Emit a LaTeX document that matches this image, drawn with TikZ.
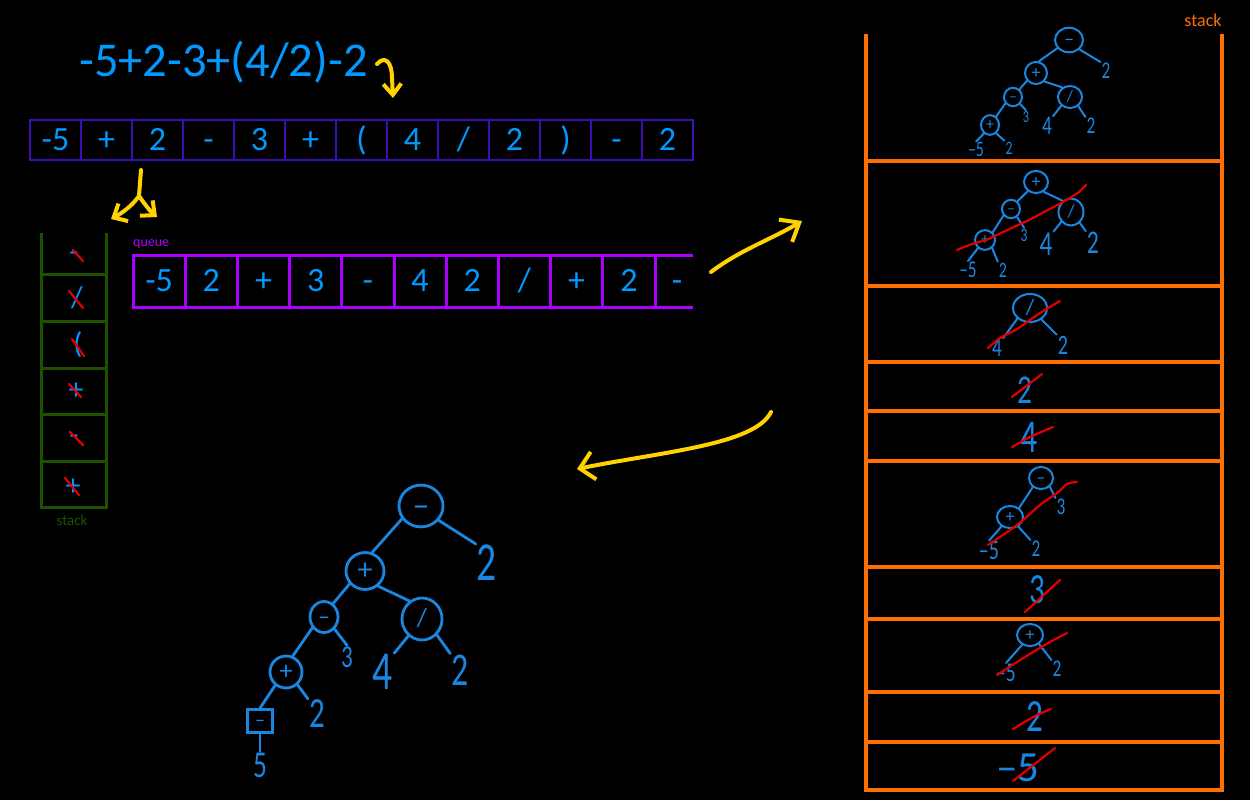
\documentclass[tikz,border=0pt]{standalone}
\usepackage{fontspec}
\setmainfont{Carlito}
\usepackage{graphicx}
\usetikzlibrary{shapes.geometric,arrows.meta}
\definecolor{typeblue}{RGB}{0,153,255}
\definecolor{handblue}{RGB}{25,135,225}
\definecolor{arrborder}{RGB}{60,15,180}
\definecolor{qpurple}{RGB}{170,0,255}
\definecolor{sgreen}{RGB}{30,80,0}
\definecolor{sorange}{RGB}{255,110,0}
\definecolor{hyellow}{RGB}{255,210,0}
\definecolor{hred}{RGB}{225,0,0}
\newcommand{\hw}[3][0.72]{{\fontsize{#2}{#2}\selectfont\scalebox{#1}[1]{#3}}}
\newcommand{\opx}[1]{\vphantom{(}#1}
\tikzset{
  arrcell/.style={draw=arrborder, line width=2pt, minimum width=51pt, minimum height=40pt, inner sep=0pt, outer sep=0pt, text=typeblue, font=\fontsize{34}{34}\selectfont, text height=21.5pt, text depth=0pt},
  qcell/.style={draw=qpurple, line width=3pt, minimum width=52.2pt, minimum height=52pt, inner sep=0pt, outer sep=0pt, text=typeblue, font=\fontsize{34}{34}\selectfont, text height=21.5pt, text depth=0pt},
  opn/.style n args={4}{ellipse, draw=handblue, line width=#4, inner sep=0pt, text=handblue, minimum width=#1, minimum height=#2, font=\fontsize{#3}{#3}\selectfont},
  num/.style={text=handblue, inner sep=1pt},
  hb/.style={draw=handblue, line width=#1, line cap=round},
  hb/.default=2pt,
  strike/.style={draw=hred, line width=2.2pt, line cap=round, line join=round},
  yarrow/.style={draw=hyellow, line width=4pt, line cap=round, line join=round},
  gline/.style={draw=sgreen, line width=3pt},
  oline/.style={draw=sorange, line width=4pt},
  sym/.style={text=typeblue, font=\fontsize{30}{30}\selectfont, inner sep=0pt},
}
\begin{document}
\begin{tikzpicture}[x=1pt,y=-1pt]
\fill[black] (0,0) rectangle (1250,800);
\useasboundingbox (0,0) rectangle (1250,800);

% expression
\node[anchor=base west, text=typeblue, font=\fontsize{48.5}{48.5}\selectfont, inner sep=0pt] (expr) at (79,77) {-5+2-3+(4/2)-2};

% token array
\node[arrcell] (a0) at (55.5,140) {-5};
\node[arrcell] (a1) at (106.5,140) {+};
\node[arrcell] (a2) at (157.5,140) {2};
\node[arrcell] (a3) at (208.5,140) {-};
\node[arrcell] (a4) at (259.5,140) {3};
\node[arrcell] (a5) at (310.5,140) {+};
\node[arrcell] (a6) at (361.5,140) {(};
\node[arrcell] (a7) at (412.5,140) {4};
\node[arrcell] (a8) at (463.5,140) {/};
\node[arrcell] (a9) at (514.5,140) {2};
\node[arrcell] (a10) at (565.5,140) {)};
\node[arrcell] (a11) at (616.5,140) {-};
\node[arrcell] (a12) at (667.5,140) {2};

% queue
\node[anchor=base west, text=qpurple, font=\fontsize{14}{14}\selectfont, inner sep=0pt] (qlab) at (133,246) {queue};
\node[qcell] (q0) at (159.1,281) {-5};
\node[qcell] (q1) at (211.3,281) {2};
\node[qcell] (q2) at (263.5,281) {+};
\node[qcell] (q3) at (315.7,281) {3};
\node[qcell] (q4) at (367.9,281) {-};
\node[qcell] (q5) at (420.1,281) {4};
\node[qcell] (q6) at (472.3,281) {2};
\node[qcell] (q7) at (524.5,281) {/};
\node[qcell] (q8) at (576.7,281) {+};
\node[qcell] (q9) at (628.9,281) {2};
\node[qcell, draw=none] (q10) at (677,281) {-};
\coordinate (qtop) at (693,255);
\coordinate (qbot) at (693,307);
\draw[qpurple, line width=3pt] (q9.north east) -- (qtop);
\draw[qpurple, line width=3pt] (q9.south east) -- (qbot);

% operator stack (left)
\draw[gline] (41,233) -- (41,507) -- (106,507) -- (106,233);
\foreach \yy in {274,321,368,414,461} \draw[gline] (41,\yy) -- (106,\yy);
\node[sym] (g1) at (74,257) {-};
\node[sym] (g2) at (77,298) {/};
\node[sym] (g3) at (78,345) {(};
\node[sym] (g4) at (76,391) {+};
\node[sym] (g5) at (74,440) {-};
\node[sym] (g6) at (73,487) {+};
\draw[strike] (73,250) -- (83,261);
\draw[strike] (69,291) -- (83,308);
\draw[strike] (72,339) -- (84,356);
\draw[strike] (69,384) -- (81,397);
\draw[strike] (70,432) -- (83,445);
\draw[strike] (65,478) -- (79,495);
\node[text=sgreen, font=\fontsize{15}{15}\selectfont] (glab) at (72,520) {stack};

% yellow arrows
\coordinate (ya1s) at (377,64);
\coordinate (ya1e) at (393,98);
\draw[yarrow, -{Straight Barb[length=11pt,width=18pt]}] (ya1s) .. controls (385,55) and (392,62) .. (392,78) -- (ya1e);
\coordinate (yf0) at (141,170);
\coordinate (yf1) at (139,196);
\coordinate (yfl) at (111,219);
\coordinate (yfr) at (157,217);
\draw[yarrow] (yf0) -- (yf1);
\draw[yarrow, -{Straight Barb[length=11pt,width=20pt]}] (yf1) .. controls (132,206) and (122,213) .. (yfl);
\draw[yarrow, -{Straight Barb[length=11pt,width=20pt]}] (yf1) .. controls (146,206) and (151,212) .. (yfr);
\coordinate (ya3s) at (711,272);
\coordinate (ya3e) at (802,221);
\draw[yarrow, -{Straight Barb[length=16pt,width=26pt]}] (ya3s) .. controls (740,250) and (770,240) .. (ya3e);
\coordinate (ya4s) at (771,412);
\coordinate (ya4e) at (577,469);
\draw[yarrow, -{Straight Barb[length=14pt,width=28pt]}] (ya4s) .. controls (755,445) and (660,452) .. (ya4e);

% big tree
\node[opn={44pt}{38pt}{34}{2.8pt}] (T0) at (421,506) {\opx{–}};
\node[num] (T0r) at (487,563) {\hw{55}{2}};
\node[opn={38pt}{32pt}{30}{2.8pt}] (T1) at (365,571) {\opx{+}};
\node[opn={28pt}{31pt}{24}{2.8pt}] (T2) at (324,617) {\opx{–}};
\node[opn={40pt}{42pt}{26}{2.8pt}] (T3) at (422,619) {\opx{/}};
\node[num] (T2r) at (347,657) {\hw{32}{3}};
\node[num] (T3l) at (383,672) {\hw{55}{4}};
\node[num] (T3r) at (460,670) {\hw{47}{2}};
\node[opn={32pt}{30pt}{26}{2.8pt}] (T4) at (286,672) {\opx{+}};
\node[num] (T4r) at (317,714) {\hw{43}{2}};
\node[rectangle, draw=handblue, line width=2.8pt, minimum width=25pt, minimum height=23pt, inner sep=0pt, text=handblue, font=\fontsize{20}{20}\selectfont] (T5) at (260,721) {\opx{–}};
\node[num] (T5c) at (260,765) {\hw{38}{5}};
\draw[hb=2.8pt] (T0.-146) -- (T1.69);
\draw[hb=2.8pt] (T0.-39) -- (T0r.north west);
\draw[hb=2.8pt] (T1.-140) -- (T2.56);
\draw[hb=2.8pt] (T1.-49) -- (T3.125);
\draw[hb=2.8pt] (T2.-49) -- (T2r.north);
\draw[hb=2.8pt] (T2.-137) -- (T4.67);
\draw[hb=2.8pt] (T3.-129) -- (T3l.north east);
\draw[hb=2.8pt] (T3.-47) -- (T3r.north west);
\draw[hb=2.8pt] (T4.-48) -- (T4r.north west);
\draw[hb=2.8pt] (T4.-129) -- (T5.north);
\draw[hb=2.8pt] (T5.south) -- (T5c.north);

% operand stack (right)
\draw[oline] (866,34) -- (866,790) -- (1222,790) -- (1222,34);
\foreach \yy in {161,286,362,411,461,567,619,692,742} \draw[oline] (866,\yy) -- (1222,\yy);
\node[text=sorange, font=\fontsize{18}{18}\selectfont] (olab) at (1203,20) {stack};

% cell 1
\node[opn={28pt}{18pt}{20}{2pt}] (A0) at (1069,40) {\opx{–}};
\node[num] (A0r) at (1106,71) {\hw{24}{2}};
\node[opn={22pt}{17pt}{18}{2pt}] (A1) at (1036,73) {\opx{+}};
\node[opn={18pt}{16pt}{15}{2pt}] (A2) at (1013,97) {\opx{–}};
\node[opn={24pt}{22pt}{16}{2pt}] (A3) at (1070,97) {\opx{/}};
\node[num] (A2r) at (1026,117) {\hw{17}{3}};
\node[num] (A3l) at (1047,126) {\hw{27}{4}};
\node[num] (A3r) at (1091,126) {\hw{24}{2}};
\node[opn={18pt}{16pt}{16}{2pt}] (A4) at (990,125) {\opx{+}};
\node[num] (A4l) at (976,150) {\hw{22}{–5}};
\node[num] (A4r) at (1009,148) {\hw{19}{2}};
\draw[hb] (A0.-145) -- (A1.76);
\draw[hb] (A0.-42) -- (A0r.north west);
\draw[hb] (A1.-139) -- (A2.50);
\draw[hb] (A1.-45) -- (A3.129);
\draw[hb] (A2.-45) -- (A2r.north);
\draw[hb] (A3.-135) -- (A3l.north east);
\draw[hb] (A3.-48) -- (A3r.north west);
\draw[hb] (A2.-140) -- (A4.54);
\draw[hb] (A4.-126) -- (A4l.north);
\draw[hb] (A4.-53) -- (A4r.north west);

% cell 2
\node[opn={24pt}{20pt}{18}{2pt}] (B1) at (1036,182) {\opx{+}};
\node[opn={18pt}{18pt}{15}{2pt}] (B2) at (1011,209) {\opx{–}};
\node[opn={25pt}{27pt}{18}{2pt}] (B3) at (1071,212) {\opx{/}};
\node[num] (B2r) at (1024,235) {\hw{19}{3}};
\node[num] (B3l) at (1046,244) {\hw{35}{4}};
\node[num] (B3r) at (1093,243) {\hw{33}{2}};
\node[opn={20pt}{16pt}{16}{2pt}] (B4) at (985,240) {\opx{+}};
\node[num] (B4l) at (968,270) {\hw{24}{–5}};
\node[num] (B4r) at (1003,270) {\hw{22}{2}};
\draw[hb] (B1.-132) -- (B2.50);
\draw[hb] (B1.-52) -- (B3.127);
\draw[hb] (B2.-53) -- (B2r.north);
\draw[hb] (B3.-135) -- (B3l.north east);
\draw[hb] (B3.-51) -- (B3r.north west);
\draw[hb] (B2.-139) -- (B4.45);
\draw[hb] (B4.-131) -- (B4l.north);
\draw[hb] (B4.-49) -- (B4r.north west);
\draw[strike] plot[smooth] coordinates {(957,250) (972,244) (986,240) (1001,233) (1016,226) (1031,219) (1046,211) (1061,203) (1073,196) (1080,191) (1086,185)};

% cell 3
\node[opn={34pt}{28pt}{22}{2pt}] (C1) at (1030,308) {\opx{/}};
\node[num] (C1l) at (997,348) {\hw{27}{4}};
\node[num] (C1r) at (1063,345) {\hw{28}{2}};
\draw[hb] (C1.-140) -- (C1l.north east);
\draw[hb] (C1.-45) -- (C1r.north west);
\draw[strike] plot[smooth] coordinates {(988,348) (1000,338) (1017,329) (1040,313) (1060,301)};

% cell 4
\node[num] (D1) at (1025,390) {\hw{41}{2}};
\draw[strike] (1012,397) -- (1042,374);
% cell 5
\node[num] (E1) at (1029,437) {\hw{47}{4}};
\draw[strike] plot[smooth] coordinates {(1012,447) (1030,437) (1053,427)};

% cell 6
\node[opn={24pt}{22pt}{18}{2pt}] (F1) at (1041,478) {\opx{–}};
\node[num] (F1r) at (1061,507) {\hw{24}{3}};
\node[opn={26pt}{20pt}{18}{2pt}] (F2) at (1010,517) {\opx{+}};
\node[num] (F2l) at (989,551) {\hw{28}{–5}};
\node[num] (F2r) at (1036,549) {\hw{24}{2}};
\draw[hb] (F1.-132) -- (F2.45);
\draw[hb] (F1.-45) -- (F1r.north west);
\draw[hb] (F2.-132) -- (F2l.north);
\draw[hb] (F2.-49) -- (F2r.north west);
\draw[strike] plot[smooth] coordinates {(988,545) (1017,525) (1040,505) (1057,493) (1067,484) (1077,482)};

% cell 7
\node[num] (G1) at (1037,590) {\hw{43}{3}};
\draw[strike] (1025,612) -- (1060,580);

% cell 8
\node[opn={26pt}{22pt}{18}{2pt}] (H1) at (1030,635) {\opx{+}};
\node[num] (H1l) at (1006,673) {\hw{27}{–5}};
\node[num] (H1r) at (1057,669) {\hw{24}{2}};
\draw[hb] (H1.-129) -- (H1l.north);
\draw[hb] (H1.-45) -- (H1r.north west);
\draw[strike] plot[smooth] coordinates {(997,675) (1025,657) (1050,642) (1067,633)};

% cell 9
\node[num] (I1) at (1035,717) {\hw{46}{2}};
\draw[strike] plot[smooth] coordinates {(1013,729) (1035,716) (1051,709)};

% cell 10
\node[num] (J1) at (1018,768) {\hw[1]{43}{–5}};
\draw[strike] (1013,781) -- (1055,748);
\end{tikzpicture}
\end{document}
